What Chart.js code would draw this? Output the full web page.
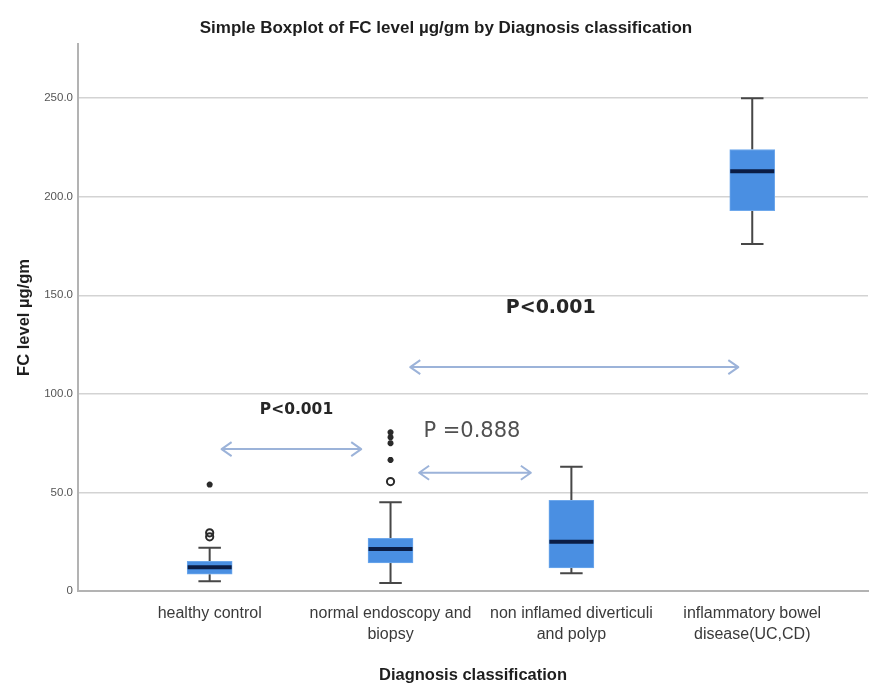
<!DOCTYPE html>
<html>
<head>
<meta charset="utf-8">
<script src="https://cdn.jsdelivr.net/npm/chart.js@4.4.1/dist/chart.umd.min.js"></script>
<style>
  html, body { margin: 0; padding: 0; background: #ffffff; }
  #wrap { width: 874px; height: 693px; position: relative; }
</style>
</head>
<body>
<div id="wrap"><canvas id="chart" width="874" height="693"></canvas></div>
<script>
// Diagnosis groups (x categories)
const categories = [
  ['healthy control'],
  ['normal endoscopy and', 'biopsy'],
  ['non inflamed diverticuli', 'and polyp'],
  ['inflammatory bowel', 'disease(UC,CD)']
];

// Five-number summaries of FC level (µg/gm) per group
const whiskerLow  = [5,    4,    9,    176];
const quartile1   = [8.5,  14.2, 11.7, 193];
const medians     = [12,   21.3, 25,   213];
const quartile3   = [15,   26.7, 46,   224];
const whiskerHigh = [22,   45,   63,   250];

// Outliers (o) and extreme values (*) per group
const outlierCircles = [[27.5, 29.5], [55.5], [], []];
const extremeStars   = [[54], [66.5, 75, 78, 80.5], [], []];

// Y axis tick values
const yTickValues = [0, 50, 100, 150, 200, 250];

// Pairwise comparison labels
const pairLabels = ['P<0.001', 'P =0.888', 'P<0.001'];

// Placement of the comparison arrows and labels (in axis units)
const comparisonLayout = [
  { from: 0.066, to: 0.838, arrowY: 72,    textX: 0.48,  textY: 91.8,  font: 'bold 15.5px "DejaVu Sans"', color: '#262626' },
  { from: 1.158, to: 1.776, arrowY: 60,    textX: 1.45,  textY: 80.7,  font: '21px "DejaVu Sans"',        color: '#505050' },
  { from: 1.109, to: 2.923, arrowY: 113.6, textX: 1.886, textY: 143.6, font: 'bold 19px "DejaVu Sans"',  color: '#262626' }
];

const SANS = "'Liberation Sans', Arial, sans-serif";

// Build datasets from the arrays above
const boxData = quartile1.map((q1, i) => ({ x: i, y: [q1, quartile3[i]] }));
const circleData = [];
outlierCircles.forEach((vals, i) => vals.forEach(v => circleData.push({ x: i, y: v })));
const starData = [];
extremeStars.forEach((vals, i) => vals.forEach(v => starData.push({ x: i, y: v })));

// Whiskers, caps and median lines drawn through the chart scales
const boxDetails = {
  id: 'boxDetails',
  beforeDatasetsDraw(chart) {
    const { ctx, scales: { x, y } } = chart;
    const bars = chart.getDatasetMeta(0).data;
    ctx.save();
    ctx.strokeStyle = '#474747';
    ctx.lineWidth = 2;
    bars.forEach((bar, i) => {
      const cx = x.getPixelForValue(i);
      const cap = bar.width * 0.25;
      [[quartile3[i], whiskerHigh[i]], [quartile1[i], whiskerLow[i]]].forEach(([from, to]) => {
        const y0 = y.getPixelForValue(from);
        const y1 = y.getPixelForValue(to);
        ctx.beginPath();
        ctx.moveTo(cx, y0);
        ctx.lineTo(cx, y1);
        ctx.moveTo(cx - cap, y1);
        ctx.lineTo(cx + cap, y1);
        ctx.stroke();
      });
    });
    ctx.restore();
  },
  afterDatasetsDraw(chart) {
    const { ctx, scales: { x, y } } = chart;
    const bars = chart.getDatasetMeta(0).data;
    ctx.save();
    ctx.strokeStyle = '#0b1d45';
    ctx.lineWidth = 4;
    bars.forEach((bar, i) => {
      const cx = x.getPixelForValue(i);
      const half = bar.width / 2 - 0.5;
      const my = y.getPixelForValue(medians[i]);
      ctx.beginPath();
      ctx.moveTo(cx - half, my);
      ctx.lineTo(cx + half, my);
      ctx.stroke();
    });
    ctx.restore();
  }
};

// Double-headed arrows with their P values
const comparisons = {
  id: 'comparisons',
  afterDraw(chart) {
    const { ctx, scales: { x, y } } = chart;
    ctx.save();
    comparisonLayout.forEach((c, i) => {
      const x1 = x.getPixelForValue(c.from);
      const x2 = x.getPixelForValue(c.to);
      const ay = y.getPixelForValue(c.arrowY);
      ctx.strokeStyle = '#9cb3d9';
      ctx.lineWidth = 2;
      ctx.lineJoin = 'round';
      ctx.beginPath();
      ctx.moveTo(x1, ay);
      ctx.lineTo(x2, ay);
      ctx.moveTo(x1 + 10, ay - 7);
      ctx.lineTo(x1, ay);
      ctx.lineTo(x1 + 10, ay + 7);
      ctx.moveTo(x2 - 10, ay - 7);
      ctx.lineTo(x2, ay);
      ctx.lineTo(x2 - 10, ay + 7);
      ctx.stroke();

      ctx.font = c.font;
      ctx.fillStyle = c.color;
      ctx.textAlign = 'center';
      ctx.textBaseline = 'middle';
      ctx.fillText(pairLabels[i], x.getPixelForValue(c.textX), y.getPixelForValue(c.textY));
    });
    ctx.restore();
  }
};

// Chart heading
const heading = {
  id: 'heading',
  afterDraw(chart) {
    const { ctx } = chart;
    ctx.save();
    ctx.font = 'bold 17px ' + SANS;
    ctx.fillStyle = '#1e1e1e';
    ctx.textAlign = 'center';
    ctx.textBaseline = 'middle';
    ctx.fillText('Simple Boxplot of FC level µg/gm by Diagnosis classification', 446, 28);
    ctx.restore();
  }
};

new Chart(document.getElementById('chart'), {
  type: 'bar',
  data: {
    datasets: [
      {
        type: 'bar',
        data: boxData,
        backgroundColor: '#4a8fe2',
        borderColor: '#6ea8ec',
        borderWidth: 1,
        borderSkipped: false,
        barThickness: 45,
        order: 2
      },
      {
        type: 'scatter',
        data: circleData,
        pointStyle: 'circle',
        pointRadius: 3.6,
        pointBorderWidth: 2,
        pointBorderColor: '#2a2a2a',
        pointBackgroundColor: 'rgba(255,255,255,0)',
        order: 1
      },
      {
        type: 'scatter',
        data: starData,
        pointStyle: 'star',
        pointRadius: 3,
        pointBorderWidth: 2,
        pointBorderColor: '#2a2a2a',
        pointBackgroundColor: '#2a2a2a',
        order: 1
      }
    ]
  },
  options: {
    responsive: false,
    animation: false,
    events: [],
    layout: { padding: { top: 44, right: 4, left: 0, bottom: 0 } },
    plugins: {
      legend: { display: false },
      tooltip: { enabled: false },
      title: { display: false }
    },
    scales: {
      x: {
        type: 'linear',
        offset: false,
        min: -0.728,
        max: 3.64,
        afterBuildTicks: s => { s.ticks = categories.map((_, i) => ({ value: i })); },
        afterFit: s => { s.height = 102; },
        grid: { display: false, drawTicks: false, offset: false },
        border: { display: true, color: '#b3b3b3', width: 2 },
        ticks: {
          autoSkip: false,
          maxRotation: 0,
          minRotation: 0,
          padding: 12,
          color: '#3a3a3a',
          font: { family: SANS, size: 16, lineHeight: 1.3 },
          callback: v => categories[v]
        },
        title: {
          display: true,
          text: 'Diagnosis classification',
          color: '#1e1e1e',
          font: { family: SANS, size: 16.5, weight: 'bold' },
          padding: { top: 0, bottom: 8 }
        }
      },
      y: {
        min: 0,
        max: 277.5,
        afterBuildTicks: s => { s.ticks = yTickValues.map(v => ({ value: v })); },
        afterFit: s => { s.width = 78; },
        grid: { color: '#d3d3d3', lineWidth: 1.5, drawTicks: false },
        border: { display: true, color: '#b3b3b3', width: 2 },
        ticks: {
          padding: 5,
          color: '#555555',
          font: { family: SANS, size: 11.5 },
          callback: v => (v === 0 ? '0' : v.toFixed(1))
        },
        title: {
          display: true,
          text: 'FC level µg/gm',
          color: '#1e1e1e',
          font: { family: SANS, size: 16.5, weight: 'bold' },
          padding: { top: 15, bottom: 0 }
        }
      }
    }
  },
  plugins: [boxDetails, comparisons, heading]
});
</script>
</body>
</html>
